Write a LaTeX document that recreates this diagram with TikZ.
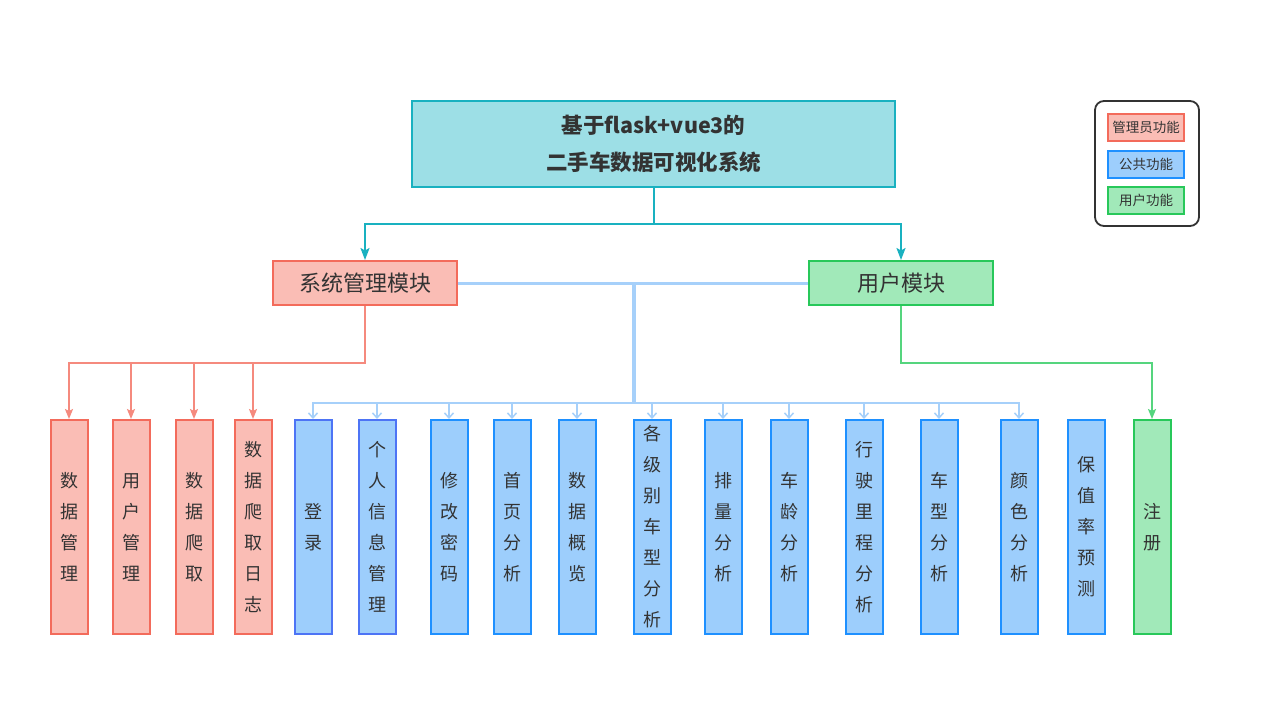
\documentclass[tikz,border=0pt]{standalone}
\usepackage{fontspec}
\setmainfont{Noto Sans CJK SC}
\usetikzlibrary{arrows.meta}
\definecolor{txt}{HTML}{333333}
\definecolor{tfill}{HTML}{9DDFE6}
\definecolor{tdraw}{HTML}{19B1C0}
\definecolor{rfill}{HTML}{FABDB5}
\definecolor{rdraw}{HTML}{F36B5B}
\definecolor{rline}{HTML}{F58A7E}
\definecolor{bfill}{HTML}{9DCEFC}
\definecolor{bdraw}{HTML}{1E90FF}
\definecolor{idraw}{HTML}{4D74F5}
\definecolor{bline}{HTML}{A6D0FA}
\definecolor{gfill}{HTML}{A1E9B9}
\definecolor{gdraw}{HTML}{28C85A}
\definecolor{gline}{HTML}{55D57E}
\tikzset{
  box/.style={draw, line width=2pt, inner sep=0pt, text=txt, align=center},
  titlebox/.style={box, fill=tfill, draw=tdraw, minimum width=483pt, minimum height=86pt,
    font=\fontsize{21.5}{37}\selectfont\bfseries},
  modred/.style={box, fill=rfill, draw=rdraw, minimum width=184pt, minimum height=44pt,
    font=\fontsize{22}{26}\selectfont},
  modgreen/.style={box, fill=gfill, draw=gdraw, minimum width=184pt, minimum height=44pt,
    font=\fontsize{22}{26}\selectfont},
  leaf/.style={box, minimum width=37pt, minimum height=214pt, font=\fontsize{18}{31}\selectfont},
  lred/.style={leaf, fill=rfill, draw=rdraw},
  lblue/.style={leaf, fill=bfill, draw=bdraw},
  lindigo/.style={leaf, fill=bfill, draw=idraw},
  lgreen/.style={leaf, fill=gfill, draw=gdraw},
  legbox/.style={box, minimum width=76pt, minimum height=27pt, font=\fontsize{13.5}{16}\selectfont},
  tarr/.style={draw=tdraw, line width=2pt, -{Stealth[length=12pt,width=9pt,inset=2.5pt]}},
  rarr/.style={draw=rline, line width=1.8pt, -{Stealth[length=10pt,width=8pt,inset=2pt]}},
  garr/.style={draw=gline, line width=1.8pt, -{Stealth[length=10pt,width=8pt,inset=2pt]}},
  barr/.style={draw=bline, line width=1.8pt, -{Straight Barb[length=5pt,width=9pt,line width=1.5pt]}},
}
\begin{document}
\begin{tikzpicture}[x=1pt,y=-1pt]
\useasboundingbox[fill=white] (0,0) rectangle (1274,713);

% title
\node[titlebox] (title) at (653.5,144) {\raisebox{-2pt}{基于flask+vue3的}\\\raisebox{-2pt}{二手车数据可视化系统}};

% modules
\node[modred] (sys) at (365,283) {系统管理模块};
\node[modgreen] (usr) at (901,283) {用户模块};

% leaves
\node[lred] (r1) at (69,527) {数\\据\\管\\理};
\node[lred] (r2) at (131,527) {用\\户\\管\\理};
\node[lred] (r3) at (194,527) {数\\据\\爬\\取};
\node[lred] (r4) at (253,527) {数\\据\\爬\\取\\日\\志};
\node[lindigo] (b1) at (313,527) {登\\录};
\node[lindigo] (b2) at (377,527) {个\\人\\信\\息\\管\\理};
\node[lblue] (b3) at (449,527) {修\\改\\密\\码};
\node[lblue] (b4) at (512,527) {首\\页\\分\\析};
\node[lblue] (b5) at (577,527) {数\\据\\概\\览};
\node[lblue] (b6) at (652,527) {各\\级\\别\\车\\型\\分\\析};
\node[lblue] (b7) at (723,527) {排\\量\\分\\析};
\node[lblue] (b8) at (789,527) {车\\龄\\分\\析};
\node[lblue] (b9) at (864,527) {行\\驶\\里\\程\\分\\析};
\node[lblue] (b10) at (939,527) {车\\型\\分\\析};
\node[lblue] (b11) at (1019,527) {颜\\色\\分\\析};
\node[lblue] (b12) at (1086,527) {保\\值\\率\\预\\测};
\node[lgreen] (g1) at (1152,527) {注\\册};

% legend
\draw[draw=txt, line width=1.8pt, rounded corners=9pt, fill=white] (1095,101) rectangle (1199,226);
\node[legbox, fill=rfill, draw=rdraw] (lg1) at (1146,127) {管理员功能};
\node[legbox, fill=bfill, draw=bdraw] (lg2) at (1146,164) {公共功能};
\node[legbox, fill=gfill, draw=gdraw] (lg3) at (1146,200) {用户功能};

% connector levels
\coordinate (tbus) at (0,224);
\coordinate (rbus) at (0,363);
\coordinate (bbus) at (0,403);
\coordinate (btrunk) at (634,284);

% title to modules
\draw[tarr] (title.south) -- (title.south |- tbus) -| (sys.north);
\draw[tarr] (title.south) -- (title.south |- tbus) -| (usr.north);

% red
\foreach \n in {r1,r2,r3,r4}
  \draw[rarr] (sys.south) -- (sys.south |- rbus) -| (\n.north);

% green
\draw[garr] (usr.south) -- (usr.south |- rbus) -| (g1.north);

% blue
\draw[draw=bline, line width=3pt] (sys.east) -- (usr.west);
\draw[draw=bline, line width=4.5pt] (btrunk) -- (btrunk |- bbus);
\foreach \n in {b1,b2,b3,b4,b5,b6,b7,b8,b9,b10,b11}
  \draw[barr] (btrunk |- bbus) -| (\n.north);
\end{tikzpicture}
\end{document}
